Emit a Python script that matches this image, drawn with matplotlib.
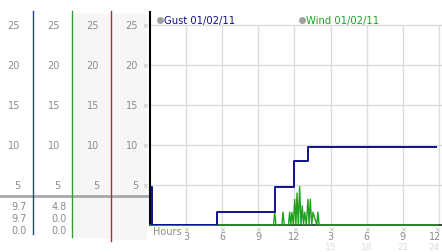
import matplotlib.pyplot as plt
from matplotlib.transforms import blended_transform_factory as blend

# readings, km/h against hours
gust_hours = [0.0, 0.15, 5.6, 10.4, 12.0, 13.15, 23.75]
gust_kmh = [4.8, 0.0, 1.6, 4.8, 8.0, 9.7, 9.7]

wind_hours = [0.0, 10.26, 10.36, 10.46, 10.95, 11.05, 11.15, 11.5, 11.6, 11.69,
              11.79, 11.9, 12.02, 12.12, 12.21, 12.32, 12.43, 12.54, 12.65, 12.75,
              12.85, 12.98, 13.12, 13.21, 13.31, 13.43, 13.54, 13.85, 13.95, 14.05,
              23.9]
wind_kmh = [0, 0, 1.6, 0, 0, 1.6, 0, 0, 1.6, 0,
            1.6, 0, 3.2, 0, 4.0, 0, 4.8, 0, 2.4, 0,
            1.6, 0, 3.2, 0, 3.2, 0, 1.6, 0, 1.6, 0,
            0]

y_ticks = [5, 10, 15, 20, 25]
hour_ticks = [3, 6, 9, 12, 15, 18, 21, 24]
hour_labels = ["3", "6", "9", "12", "3", "6", "9", "12"]
hour_labels_24 = ["15", "18", "21", "24"]
gust_stats = ["9.7", "9.7", "0.0"]
wind_stats = ["4.8", "0.0", "0.0"]
gust_label = "Gust 01/02/11"
wind_label = "Wind 01/02/11"

W, H = 442, 253
navy = "#10108a"
green = "#22a022"
grey = "#8c8c8c"
grid = "#dcdcdc"

fig = plt.figure(figsize=(W / 100, H / 100), dpi=100)
fig.patch.set_facecolor("white")

# overlay in pixel coords for the left panel
ov = fig.add_axes([0, 0, 1, 1])
ov.set_xlim(0, W)
ov.set_ylim(H, 0)
ov.axis("off")

ax = fig.add_axes([150 / W, (H - 226) / H, (W - 150) / W, 213 / H])
ax.set_xlim(0, (W - 150) / 12.04)
ax.set_ylim(0, 213 / 8)
ax.patch.set_alpha(0)
for s in ["top", "right"]:
    ax.spines[s].set_visible(False)
ax.spines["left"].set_color("black")
ax.spines["bottom"].set_color("#222222")
ax.spines["left"].set_linewidth(1.5)
ax.spines["bottom"].set_linewidth(1.2)
ax.set_xticks([])
ax.set_yticks([])

for v in y_ticks:
    ax.axhline(v, color=grid, lw=1, zorder=0)
for h in hour_ticks:
    ax.vlines(h, 0, 25, color=grid, lw=1, zorder=0)

ax.plot(wind_hours, wind_kmh, color=green, lw=1, zorder=3, clip_on=False)
ax.plot(gust_hours, gust_kmh, color=navy, lw=1.4, drawstyle="steps-post",
        zorder=4)

# left panel columns
ov.fill_between([73, 111], 15, 238, color="#f6f6f6", zorder=0)
ov.fill_between([112, 146], 15, 240, color="#f6f6f6", zorder=0)
ov.plot([33.3, 33.3], [12, 235], color="#2040a0", lw=1)
ov.plot([72.3, 72.3], [12, 238], color="#30a030", lw=1)
ov.plot([111, 111], [12, 242], color="#b03030", lw=1)
ov.plot([0, 150], [196.7, 196.7], color="#a8a8a8", lw=2, zorder=1)

ty = blend(ov.transData, ax.transData)
for v in y_ticks:
    for xr in [20, 60, 99, 138]:
        ov.text(xr, v, str(v), transform=ty, ha="right", va="center",
                fontsize=7, color=grey)
    ov.text(145, v, "\u00d7", transform=ty, ha="center", va="center",
            fontsize=5, color="#b0b0b0")

for i, (g, w) in enumerate(zip(gust_stats, wind_stats)):
    yy = 207 + 12 * i
    ov.text(27, yy, g, ha="right", va="center", fontsize=7, color=grey)
    ov.text(67, yy, w, ha="right", va="center", fontsize=7, color=grey)

tx = blend(ax.transData, ov.transData)
ov.text(153, 232, "Hours", ha="left", va="center", fontsize=7, color=grey)
for h, lab in zip(hour_ticks, hour_labels):
    ov.text(min(h, 23.8), 230.5, "\u00d7", transform=tx, ha="center",
            va="center", fontsize=5, color="#b0b0b0")
    ov.text(min(h, 23.7), 237.5, lab, transform=tx, ha="center",
            va="center", fontsize=7, color=grey)
for h, lab in zip(hour_ticks[4:], hour_labels_24):
    ov.text(min(h, 23.55), 247.5, lab, transform=tx, ha="center",
            va="center", fontsize=6.5, color="#dddddd")

# legend
ov.plot([160], [20.5], "o", ms=4, color="#a0a0a0")
ov.text(164, 20.5, gust_label, ha="left", va="center", fontsize=7.2,
        color=navy)
ov.plot([302], [20.5], "o", ms=4, color="#a0a0a0")
ov.text(306, 20.5, wind_label, ha="left", va="center", fontsize=7.2,
        color=green)

fig.savefig("out.png", dpi=100)
